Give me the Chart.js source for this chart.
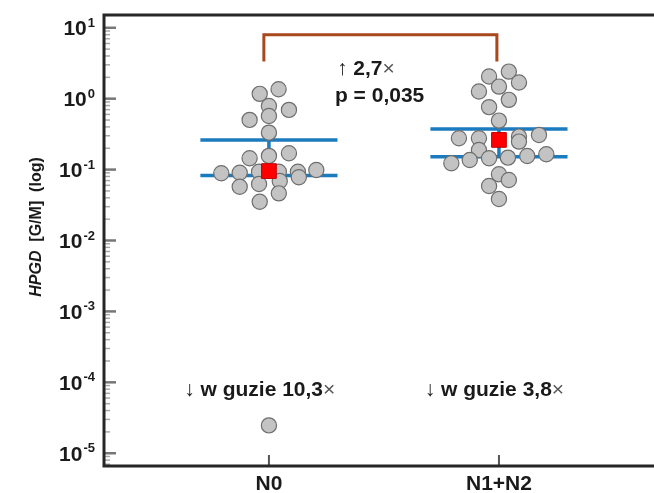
<!DOCTYPE html>
<html>
<head>
<meta charset="utf-8">
<script src="https://cdn.jsdelivr.net/npm/chart.js@4"></script>
<style>
  html, body { margin: 0; padding: 0; background: #fff; }
  #wrap { width: 654px; height: 493px; }
</style>
</head>
<body>
<div id="wrap"><canvas id="hpgdChart"></canvas></div>
<script>
// ── Données ────────────────────────────────────────────────────────────────

const categories = ['N0', 'N1+N2'];

const n0Values = [1.36, 1.17, 0.79, 0.695, 0.571, 0.502, 0.332, 0.1445, 0.156, 0.170,
                  0.0887, 0.0904, 0.0933, 0.0933, 0.0933, 0.0987, 0.0574, 0.0627, 0.0690,
                  0.0778, 0.0462, 0.0352, 0.0000247];
const n0Jitter = [0.042, -0.040, 0, 0.087, 0, -0.084, 0, -0.084, 0, 0.087,
                  -0.207, -0.127, -0.043, 0.043, 0.126, 0.206, -0.127, -0.043, 0.047,
                  0.130, 0.043, -0.040, 0];

const n12Values = [2.41, 2.05, 1.69, 1.48, 1.26, 0.962, 0.759, 0.491, 0.277, 0.277,
                   0.292, 0.248, 0.308, 0.189, 0.1227, 0.1368, 0.1445, 0.1474, 0.1556,
                   0.1644, 0.0859, 0.0713, 0.0586, 0.0385];
const n12Jitter = [0.043, -0.043, 0.087, 0, -0.087, 0.043, -0.043, 0, -0.174, -0.087,
                   0.087, 0.087, 0.174, -0.087, -0.207, -0.127, -0.043, 0.039, 0.123,
                   0.206, 0, 0.043, -0.043, 0];

const medians = [0.0953, 0.262];
const upperQ  = [0.262, 0.374];
const lowerQ  = [0.0822, 0.152];

const yTickExps   = [1, 0, -1, -2, -3, -4, -5];
const foldLabels  = ['w guzie 10,3', 'w guzie 3,8'];
const ratioLabel  = '2,7';
const pLabel      = 'p = 0,035';

// ── Styles ─────────────────────────────────────────────────────────────────

const FONT  = "Arial, 'Liberation Sans', sans-serif";
const BLUE  = '#1b7bbf';
const BROWN = '#a9471d';
const INK   = '#1a1a1a';
const HALF  = 0.298;   // demi-largeur des barres quartiles (unités catégorie)

// ── Construction des séries ────────────────────────────────────────────────

const points = [
  ...n0Values.map((v, i)  => ({ x: 0 + n0Jitter[i],  y: v })),
  ...n12Values.map((v, i) => ({ x: 1 + n12Jitter[i], y: v })),
];

const quartileLines = [];
categories.forEach((_, c) => {
  quartileLines.push(
    { x: c - HALF, y: upperQ[c] }, { x: c + HALF, y: upperQ[c] }, { x: c, y: null },
    { x: c - HALF, y: lowerQ[c] }, { x: c + HALF, y: lowerQ[c] }, { x: c, y: null },
    { x: c, y: lowerQ[c] },        { x: c, y: upperQ[c] },        { x: c, y: null },
  );
});

const bracket = [
  { x: -0.022, y: 3.34 }, { x: -0.022, y: 7.96 },
  { x: 0.991,  y: 7.96 }, { x: 0.991,  y: 3.34 },
];

// ── Axes, libellés et annotations dessinés à la main ───────────────────────

function seg(ctx, x1, y1, x2, y2) {
  ctx.beginPath(); ctx.moveTo(x1, y1); ctx.lineTo(x2, y2); ctx.stroke();
}

// texte composé de morceaux [texte, police, couleur], aligné à gauche
function runs(ctx, parts, x, y) {
  let cx = x;
  parts.forEach(([t, f, col]) => {
    ctx.font = f; ctx.fillStyle = col;
    ctx.fillText(t, cx, y);
    cx += ctx.measureText(t).width;
  });
}
function runsWidth(ctx, parts) {
  return parts.reduce((w, [t, f]) => { ctx.font = f; return w + ctx.measureText(t).width; }, 0);
}

const axesPlugin = {
  id: 'axesPlugin',
  afterDraw(chart) {
    const { ctx, chartArea: a, scales: { x, y } } = chart;
    ctx.save();
    ctx.textBaseline = 'alphabetic';
    ctx.lineCap = 'butt';

    // graduations mineures
    ctx.strokeStyle = '#a8a8a8'; ctx.lineWidth = 1.5;
    for (let e = -6; e <= 1; e++) {
      for (let m = 2; m <= 9; m++) {
        const v = m * 10 ** e;
        if (v < y.min || v > y.max) continue;
        const py = y.getPixelForValue(v);
        seg(ctx, a.left, py, a.left + 6, py);
      }
    }

    // graduations majeures + libellés 10^n
    yTickExps.forEach(e => {
      const py = y.getPixelForValue(10 ** e);
      ctx.strokeStyle = '#777'; ctx.lineWidth = 2.5;
      seg(ctx, a.left, py, a.left + 12, py);

      const base = [['10', `bold 21px ${FONT}`, INK]];
      const expo = [[String(e), `bold 13px ${FONT}`, INK]];
      const right = a.left - 9;
      const wE = runsWidth(ctx, expo), wB = runsWidth(ctx, base);
      runs(ctx, base, right - wE - wB - 1, py + 7.5);
      runs(ctx, expo, right - wE, py - 1);
    });

    // graduations et libellés de l'axe x
    categories.forEach((c, i) => {
      const px = x.getPixelForValue(i);
      ctx.strokeStyle = '#555'; ctx.lineWidth = 2;
      seg(ctx, px, a.bottom, px, a.bottom - 11);
      ctx.font = `bold 21px ${FONT}`; ctx.fillStyle = INK; ctx.textAlign = 'center';
      ctx.fillText(c, px, a.bottom + 24);
      ctx.textAlign = 'left';
    });

    // cadre
    ctx.strokeStyle = '#262626'; ctx.lineWidth = 3;
    ctx.beginPath();
    ctx.moveTo(a.right + 2, a.top); ctx.lineTo(a.left, a.top);
    ctx.lineTo(a.left, a.bottom); ctx.lineTo(a.right + 2, a.bottom);
    ctx.stroke();

    // titre de l'axe y
    const title = [
      ['HPGD', `italic bold 16px ${FONT}`, INK],
      ['  [G/M]  (log)', `bold 16px ${FONT}`, INK],
    ];
    ctx.save();
    ctx.translate(41, 227);
    ctx.rotate(-Math.PI / 2);
    runs(ctx, title, -runsWidth(ctx, title) / 2, 0);
    ctx.restore();

    // annotations
    const big = `bold 21px ${FONT}`, thin = `21px ${FONT}`;
    const foldAt = [{ x: -0.04, y: 8.2e-5 }, { x: -0.02 + 1, y: 8.2e-5 }];
    foldLabels.forEach((t, i) => {
      const parts = [['↓ ', thin, INK], [t, big, INK], ['×', thin, '#555']];
      const w = runsWidth(ctx, parts);
      runs(ctx, parts, x.getPixelForValue(foldAt[i].x) - w / 2, y.getPixelForValue(foldAt[i].y) + 7.5);
    });
    const lx = x.getPixelForValue(0.287);
    runs(ctx, [['↑ ', thin, INK], [ratioLabel, big, INK], ['×', thin, '#555']], lx + 2, y.getPixelForValue(2.72) + 7.5);
    runs(ctx, [[pLabel, big, INK]], lx, y.getPixelForValue(1.13) + 7.5);

    ctx.restore();
  },
};

// ── Graphique ──────────────────────────────────────────────────────────────

new Chart(document.getElementById('hpgdChart'), {
  type: 'scatter',
  data: {
    datasets: [
      {
        type: 'line', label: 'quartiles', data: quartileLines,
        borderColor: BLUE, borderWidth: 3.5, pointRadius: 0,
        spanGaps: false, order: 4,
      },
      {
        type: 'line', label: 'p', data: bracket,
        borderColor: BROWN, borderWidth: 3, pointRadius: 0, order: 4,
      },
      {
        label: 'pacjenci', data: points,
        backgroundColor: '#c3c3c3', borderColor: '#6e6e6e', borderWidth: 1.2,
        pointRadius: 7.6, order: 2,
      },
      {
        label: 'mediana', data: medians.map((v, i) => ({ x: i, y: v })),
        pointStyle: 'rect', pointRadius: 10.4,
        backgroundColor: '#ff0000', borderColor: '#c00000', borderWidth: 1, order: 1,
      },
    ],
  },
  options: {
    responsive: true, maintainAspectRatio: false, animation: false,
    layout: { autoPadding: false, padding: { left: 104, top: 15, right: 0, bottom: 27 } },
    plugins: { legend: { display: false }, tooltip: { enabled: false } },
    scales: {
      x: { type: 'linear', display: false, min: -0.717, max: 1.674 },
      y: { type: 'logarithmic', display: false, min: 10 ** -5.18, max: 10 ** 1.18 },
    },
  },
  plugins: [axesPlugin],
});
</script>
</body>
</html>
